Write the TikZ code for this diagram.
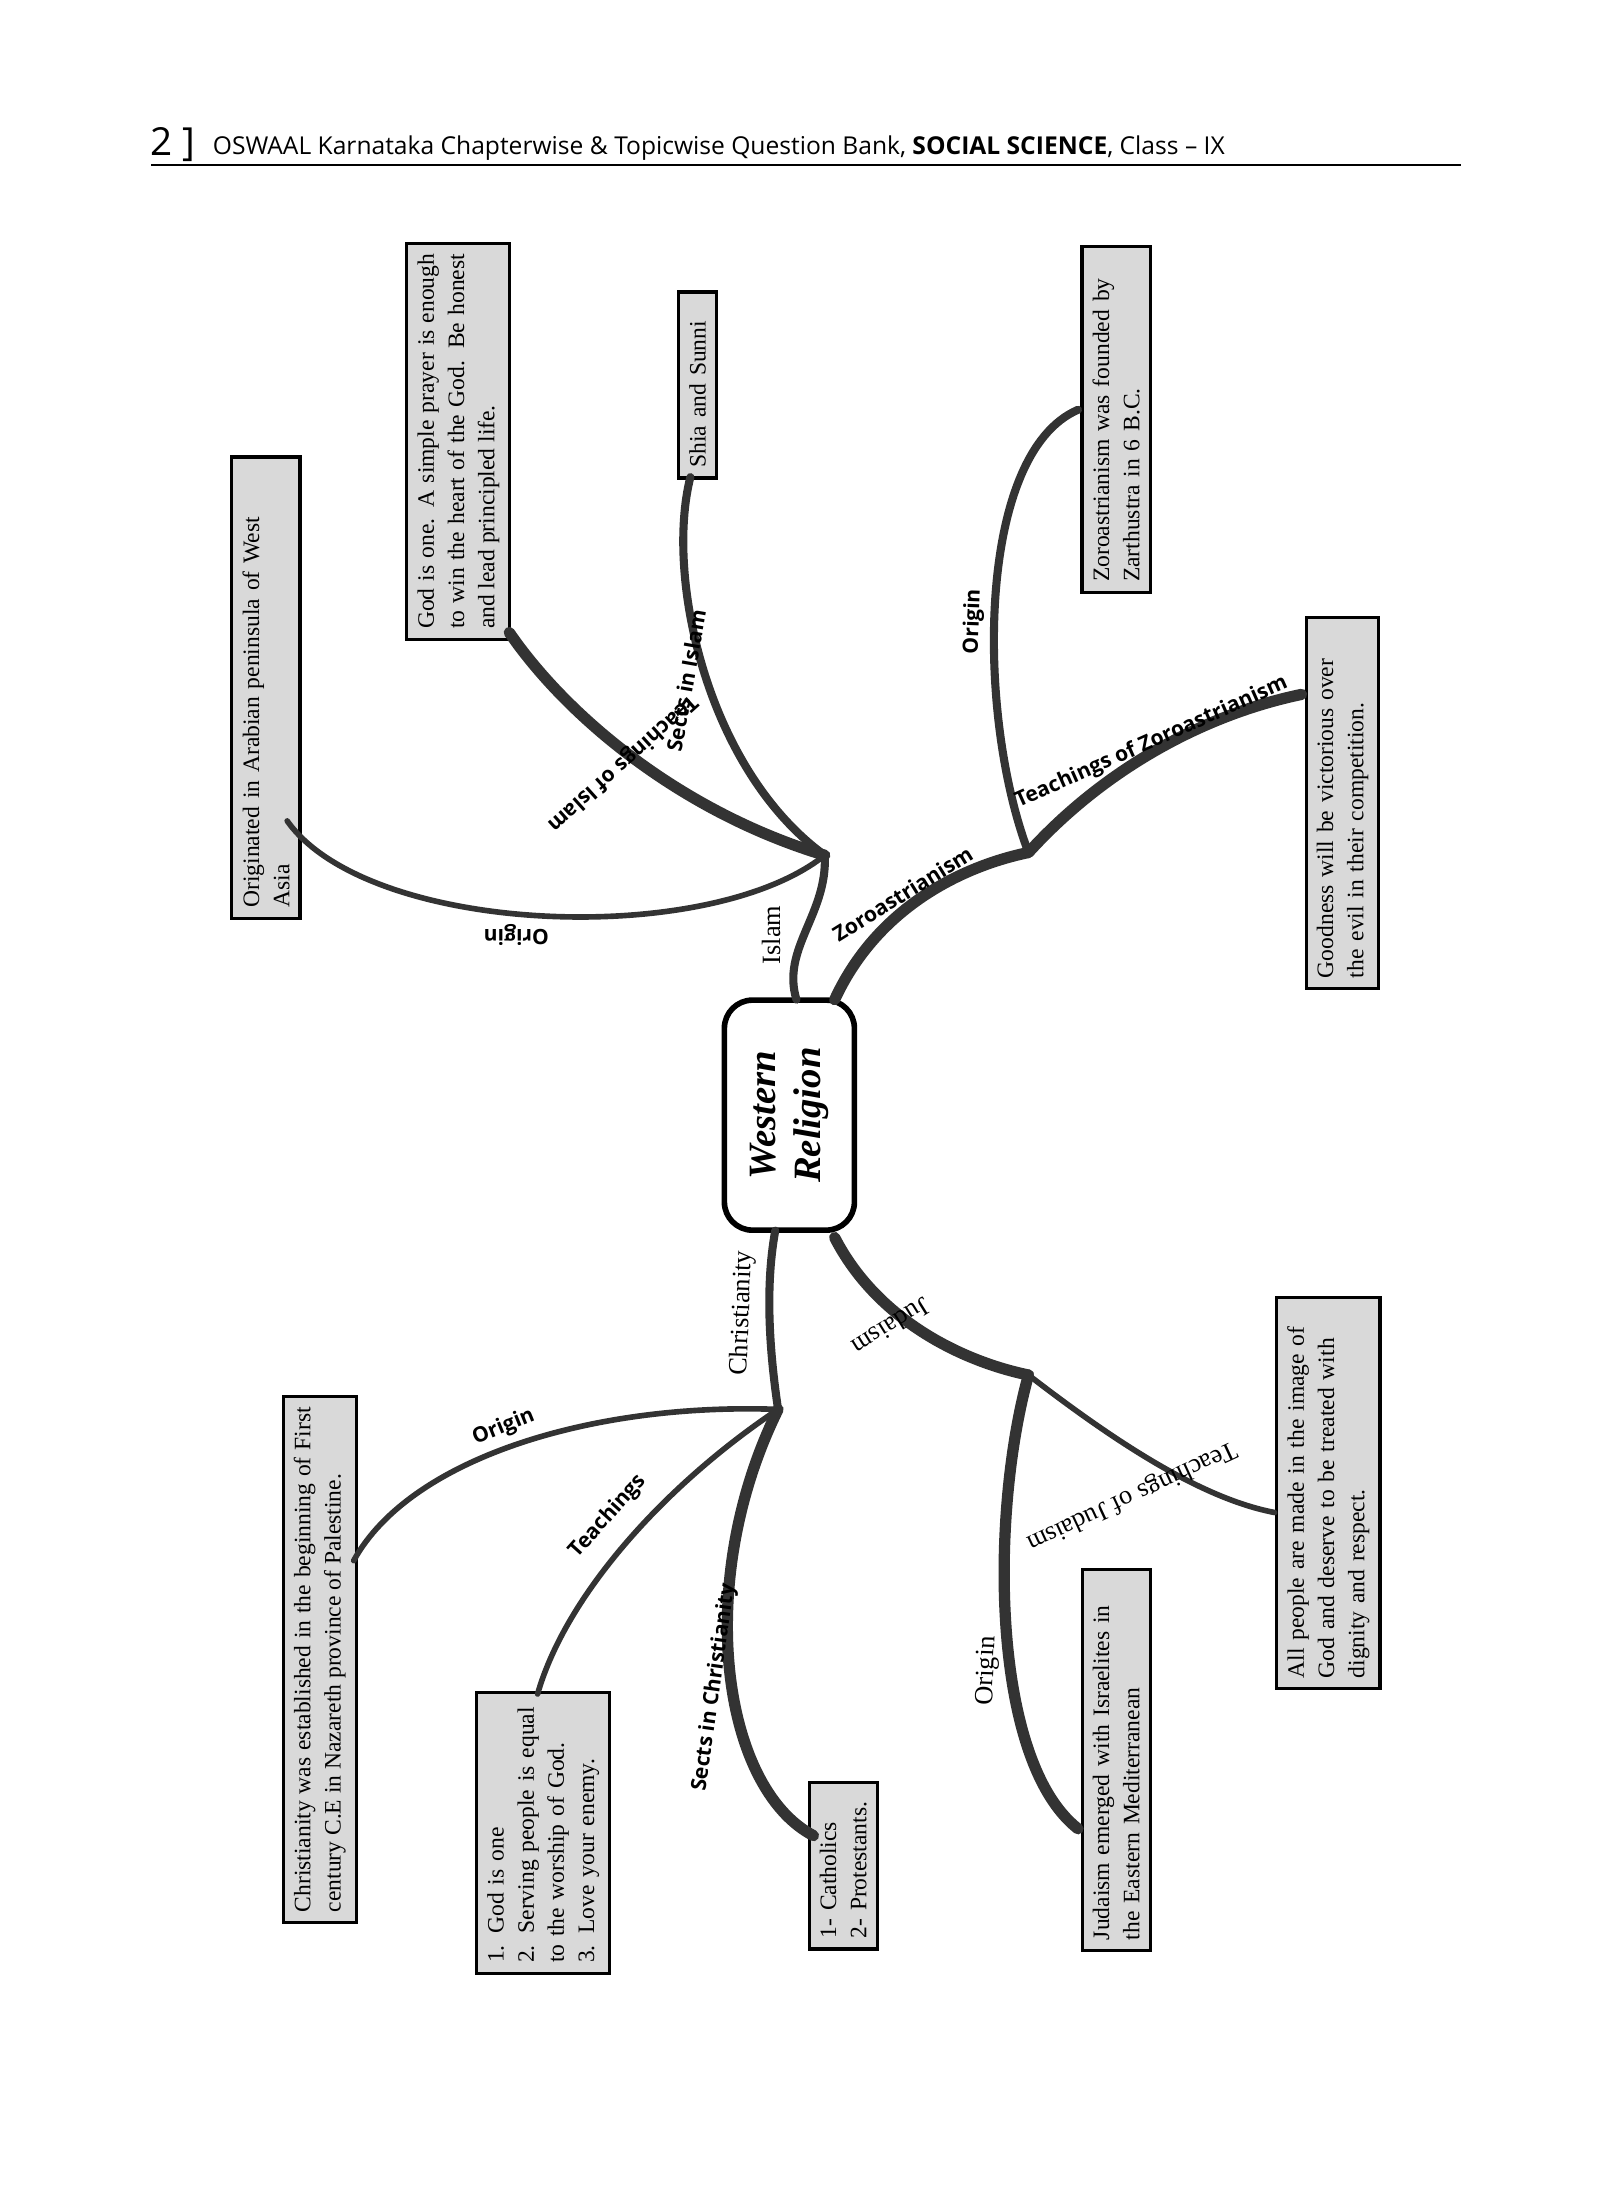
\documentclass[tikz,border=0pt]{standalone}
\usepackage{fontspec}
\setmainfont{Liberation Serif}
\newfontfamily\lblfont{Open Sans}
\newfontfamily\hdrfont{Open Sans}
\newcommand{\boxfnt}{\fontsize{6.7}{8.6}\selectfont\hyphenpenalty=10000 \exhyphenpenalty=10000 }
\begin{document}
\begin{tikzpicture}[x=0.01414cm,y=-0.01375cm]
\tikzset{
 infobox/.style={draw=black,line width=0.9pt,fill=gray!30,rotate=90,inner sep=3pt,align=justify,font=\boxfnt},
 lbl/.style={font=\lblfont\bfseries\fontsize{6}{7}\selectfont,inner sep=1pt},
 lblr/.style={font=\fontsize{7.5}{8.5}\selectfont,inner sep=1pt},
 brthick/.style={draw=black!80,line width=3.2pt,line cap=round},
 brmid/.style={draw=black!80,line width=2.3pt,line cap=round},
 brthin/.style={draw=black!80,line width=1.6pt,line cap=round}
}
\useasboundingbox[fill=white] (0,0) rectangle (1131,1600);
% header
\node[anchor=base west,inner sep=0,font=\hdrfont\fontsize{11}{12}\selectfont] (pn) at (106,113) {2 ]};
\node[anchor=base west,inner sep=0,font=\hdrfont\fontsize{7}{8}\selectfont] (hd) at (150,112) {OSWAAL Karnataka Chapterwise \& Topicwise Question Bank, \textbf{SOCIAL SCIENCE}, Class – IX};
\draw[line width=0.6pt] (107,120) -- (1033,120);
% centre
\node[draw=black,line width=1.6pt,rounded corners=8pt,rotate=90,minimum width=2.3cm,minimum height=1.3cm,align=center,font=\bfseries\itshape\fontsize{11}{13}\selectfont] (wr) at (558,811) {Western\\Religion};
% boxes
\node[infobox,text width=4.4cm,align=left] (b1) at (188,500) {Originated in Arabian peninsula of West Asia};
\node[infobox,text width=3.75cm] (b2) at (324,321) {God is one. A simple prayer is enough to win the heart of the God. Be honest and lead principled life.};
\node[infobox,text width=1.65cm,align=left] (b3) at (493,280) {Shia and Sunni};
\node[infobox,text width=3.25cm,align=left] (b4) at (789,305) {Zoroastrianism was founded by Zarthustra in 6 B.C.};
\node[infobox,text width=3.5cm,align=left] (b5) at (949,584) {Goodness will be victorious over the evil in their competition.};
\node[infobox,text width=5.05cm] (b6) at (226,1207) {Christianity was established in the beginning of First century C.E in Nazareth province of Palestine.};
\node[infobox,text width=2.6cm,align=left] (b7) at (384,1333) {1. God is one\\2. Serving people is equal to the worship of God.\\3. Love your enemy.};
\node[infobox,text width=1.45cm,align=left] (b8) at (596,1357) {1- Catholics\\2- Protestants.};
\node[infobox,text width=3.6cm,align=left] (b9) at (789,1280) {Judaism emerged with Israelites in the Eastern Mediterranean};
\node[infobox,text width=3.7cm,align=left] (b10) at (939,1086) {All people are made in the image of God and deserve to be treated with dignity and respect.};
% coordinates
\coordinate (hi) at (583,622);
\coordinate (hz) at (727,620);
\coordinate (hc) at (550,1025);
\coordinate (hj) at (727,1000);
\coordinate (e1) at (203,597);
\coordinate (e2) at (360,460);
\coordinate (e3) at (488,347);
\coordinate (e4) at (762,298);
\coordinate (e5) at (920,505);
\coordinate (e6) at (250,1135);
\coordinate (e7) at (380,1232);
\coordinate (e8) at (575,1335);
\coordinate (e9) at (762,1330);
\coordinate (e10) at (901,1100);
\coordinate (wi) at (563,727);
\coordinate (wz) at (590,727);
\coordinate (wc) at (548,895);
\coordinate (wj) at (590,900);
% branches
\draw[brmid] (wi) .. controls (552,690) and (585,665) .. (hi);
\draw[brthin] (hi) .. controls (500,690) and (260,680) .. (e1);
\draw[brthick] (hi) .. controls (480,590) and (400,520) .. (e2);
\draw[brmid] (hi) .. controls (500,560) and (470,420) .. (e3);
\draw[brthick] (wz) .. controls (620,660) and (680,630) .. (hz);
\draw[brmid] (hz) .. controls (690,520) and (690,330) .. (e4);
\draw[brthick] (hz) .. controls (780,560) and (850,520) .. (e5);
\draw[brmid] (wc) .. controls (540,940) and (545,990) .. (hc);
\draw[brthin] (hc) .. controls (420,1020) and (290,1060) .. (e6);
\draw[brthin] (hc) .. controls (470,1080) and (400,1160) .. (e7);
\draw[brthick] (hc) .. controls (490,1150) and (510,1300) .. (e8);
\draw[brthick] (wj) .. controls (620,960) and (680,990) .. (hj);
\draw[brthin] (hj) .. controls (790,1050) and (850,1090) .. (e10);
\draw[brthick] (hj) .. controls (700,1100) and (700,1280) .. (e9);
% labels
\node[lblr,rotate=90] (l1) at (545,680) {Islam};
\node[lbl,rotate=180] (l2) at (365,680) {Origin};
\node[lbl,rotate=-138] (l3) at (440,555) {Teachings of Islam};
\node[lbl,rotate=80] (l4) at (485,495) {Sects in Islam};
\node[lbl,rotate=32] (l5) at (638,650) {Zoroastrianism};
\node[lbl,rotate=88] (l6) at (688,452) {Origin};
\node[lbl,rotate=24] (l7) at (814,540) {Teachings of Zoroastrianism};
\node[lblr,rotate=88] (l8) at (525,955) {Christianity};
\node[lbl,rotate=22] (l9) at (356,1038) {Origin};
\node[lbl,rotate=48] (l10) at (430,1103) {Teachings};
\node[lbl,rotate=82] (l11) at (505,1227) {Sects in Christianity};
\node[lblr,rotate=-148] (l12) at (630,965) {Judaism};
\node[lblr,rotate=-155] (l13) at (800,1088) {Teachings of Judaism};
\node[lblr,rotate=88] (l14) at (698,1215) {Origin};
\end{tikzpicture}
\end{document}
